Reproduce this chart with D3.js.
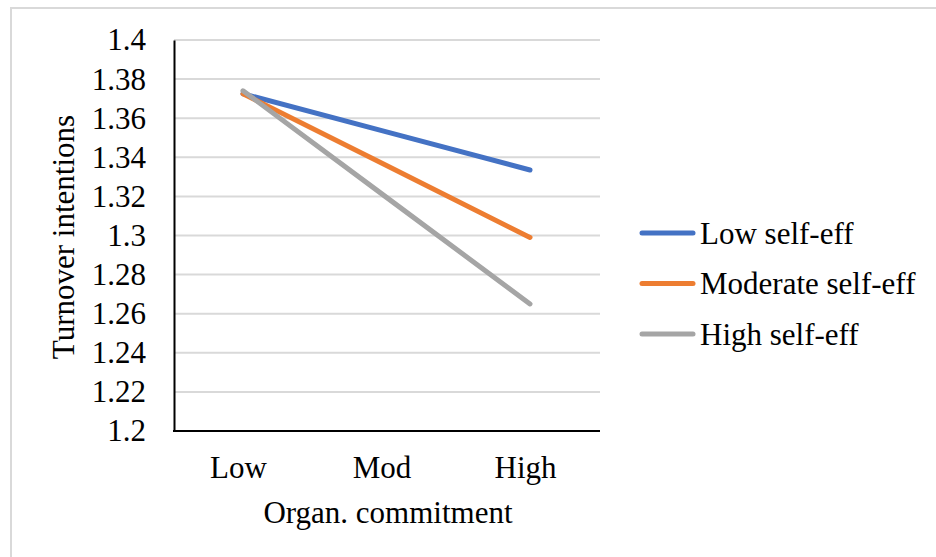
<!DOCTYPE html>
<html>
<head>
<meta charset="utf-8">
<script src="https://cdn.jsdelivr.net/npm/d3@7"></script>
<style>
  html, body { margin: 0; padding: 0; background: #fff; }
  svg { display: block; }
  text { font-family: "Liberation Serif", "Times New Roman", serif; fill: #000; }
</style>
</head>
<body>
<svg id="chart" width="936" height="557"></svg>
<script>
// Organizational commitment levels on the x axis
const categories = ["Low", "Mod", "High"];

// Self-efficacy series names
const seriesNames = ["Low self-eff", "Moderate self-eff", "High self-eff"];

// Turnover intentions per series at each commitment level
const lowSelfEff      = [1.3725, 1.3530, 1.3335];
const moderateSelfEff = [1.3725, 1.3358, 1.2990];
const highSelfEff     = [1.3740, 1.3195, 1.2650];

// Y axis ticks
const yTicks = [1.2, 1.22, 1.24, 1.26, 1.28, 1.3, 1.32, 1.34, 1.36, 1.38, 1.4];

const colors = ["#4472C4", "#ED7D31", "#A5A5A5"];
const FONT = '"Liberation Serif", "Times New Roman", serif';

const svg = d3.select("#chart");

// Outer chart-area border
svg.append("rect")
  .attr("x", 11).attr("y", 8)
  .attr("width", 940).attr("height", 560)
  .attr("fill", "none")
  .attr("stroke", "#d9d9d9")
  .attr("stroke-width", 2);

const plot = { left: 174, right: 600, top: 40, bottom: 431 };

// Category positions inside the plot area
const x = d3.scalePoint()
  .domain(categories)
  .range([243, 530]);

const y = d3.scaleLinear()
  .domain([1.2, 1.4])
  .range([plot.bottom, plot.top]);

// Horizontal gridlines
svg.append("g")
  .selectAll("line")
  .data(yTicks.filter(t => t > 1.2))
  .join("line")
  .attr("x1", plot.left).attr("x2", plot.right)
  .attr("y1", d => y(d)).attr("y2", d => y(d))
  .attr("stroke", "#d9d9d9")
  .attr("stroke-width", 2);

// Y axis
const yAxis = svg.append("g")
  .attr("transform", `translate(${plot.left},0)`)
  .call(d3.axisLeft(y).tickValues(yTicks).tickFormat(d => String(+d.toFixed(2))).tickSize(0).tickPadding(28));
yAxis.select(".domain").attr("stroke", "#000").attr("stroke-width", 2);
yAxis.selectAll("text")
  .style("font-family", FONT)
  .style("font-size", "31px")
  .attr("fill", "#000");

// X axis: category labels plus a baseline across the full plot width
const xAxis = svg.append("g")
  .attr("transform", `translate(0,${plot.bottom})`)
  .call(d3.axisBottom(x).tickSize(0).tickPadding(25));
xAxis.select(".domain").remove();
xAxis.selectAll("text")
  .attr("dx", "-5")
  .style("font-family", FONT)
  .style("font-size", "31px")
  .attr("fill", "#000");
svg.append("line")
  .attr("x1", plot.left - 1).attr("x2", plot.right)
  .attr("y1", plot.bottom).attr("y2", plot.bottom)
  .attr("stroke", "#000")
  .attr("stroke-width", 2);

// Axis titles
svg.append("text")
  .attr("transform", "translate(74,237) rotate(-90)")
  .attr("text-anchor", "middle")
  .style("font-family", FONT)
  .style("font-size", "31px")
  .text("Turnover intentions");

svg.append("text")
  .attr("x", 388)
  .attr("y", 523)
  .attr("text-anchor", "middle")
  .style("font-family", FONT)
  .style("font-size", "31px")
  .text("Organ. commitment");

// Series lines
const seriesData = [lowSelfEff, moderateSelfEff, highSelfEff];
const line = d3.line()
  .x((d, i) => x(categories[i]))
  .y(d => y(d));

svg.append("g")
  .selectAll("path")
  .data(seriesData)
  .join("path")
  .attr("d", d => line(d))
  .attr("fill", "none")
  .attr("stroke", (d, i) => colors[i])
  .attr("stroke-width", 5)
  .attr("stroke-linecap", "round")
  .attr("stroke-linejoin", "round");

// Legend
const legend = svg.append("g");
seriesNames.forEach((name, i) => {
  const ly = 233 + i * 50.5;
  legend.append("line")
    .attr("x1", 642).attr("x2", 693)
    .attr("y1", ly).attr("y2", ly)
    .attr("stroke", colors[i])
    .attr("stroke-width", 5)
    .attr("stroke-linecap", "round");
  legend.append("text")
    .attr("x", 700)
    .attr("y", ly + 10.5)
    .style("font-family", FONT)
    .style("font-size", "31px")
    .text(name);
});
</script>
</body>
</html>
